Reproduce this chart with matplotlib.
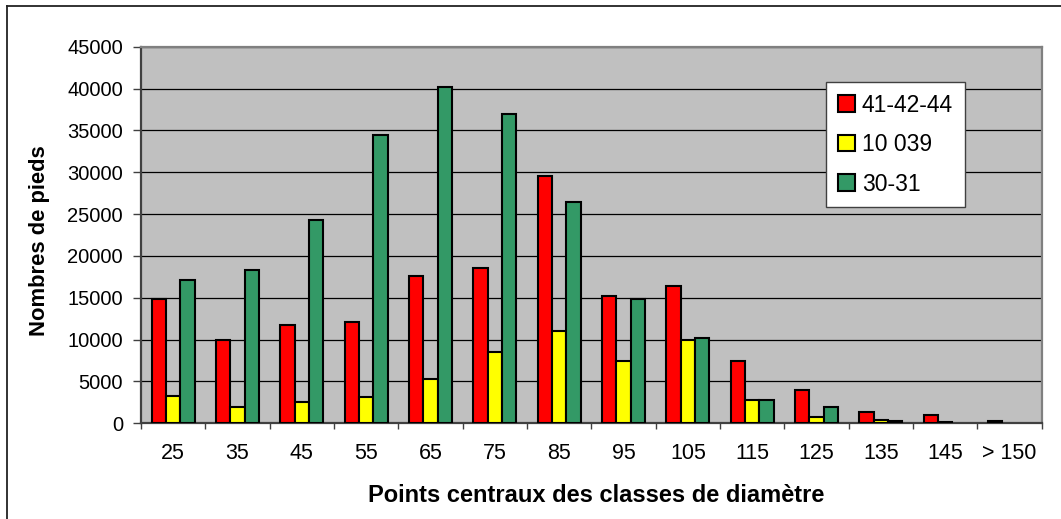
import matplotlib
matplotlib.use("Agg")
import matplotlib.pyplot as plt
from matplotlib.lines import Line2D
import numpy as np

plt.rcParams['font.family'] = ['Liberation Sans', 'DejaVu Sans']

categories = ['25', '35', '45', '55', '65', '75', '85', '95', '105', '115', '125', '135', '145', '> 150']
series_names = ['41-42-44', '10 039', '30-31']
s_red = [14800, 10000, 11700, 12100, 17600, 18600, 29500, 15200, 16400, 7400, 4000, 1400, 950, 250]
s_yellow = [3300, 1900, 2600, 3100, 5300, 8500, 11000, 7400, 9900, 2800, 700, 450, 200, 0]
s_green = [17100, 18300, 24250, 34500, 40200, 36900, 26400, 14800, 10200, 2800, 1900, 250, 0, 0]
colors = ['#FF0000', '#FFFF00', '#339966']
y_ticks = list(range(0, 45001, 5000))

W, H = 1061, 519
fig = plt.figure(figsize=(W / 100, H / 100), dpi=100)
fig.patch.set_facecolor('white')

# outer frame (left and top edges visible)
fig.add_artist(Line2D([7 / W, 7 / W], [0, 1 - 6.3 / H], transform=fig.transFigure, color='#222222', lw=1.3))
fig.add_artist(Line2D([7 / W, 1], [1 - 6.3 / H, 1 - 6.3 / H], transform=fig.transFigure, color='#222222', lw=1.3))

left, right = 141 / W, 1041.7 / W
bottom, top = 1 - 423.3 / H, 1 - 46.7 / H
ax = fig.add_axes([left, bottom, right - left, top - bottom])
ax.set_facecolor('#C0C0C0')

x = np.arange(len(categories))
bw = 0.222
for i, (vals, c, name) in enumerate(zip([s_red, s_yellow, s_green], colors, series_names)):
    lws = [1.5 if v > 0 else 0 for v in vals]
    ax.bar(x + (i - 1) * bw, vals, width=bw, color=c, edgecolor='black', linewidth=lws, label=name, zorder=3)

ax.set_xlim(-0.5, len(categories) - 0.5)
ax.set_ylim(0, 45000)
ax.set_yticks(y_ticks)
ax.set_yticklabels([str(v) for v in y_ticks], fontsize=14.5)
ax.yaxis.grid(True, color='black', lw=0.9, zorder=0)
ax.set_axisbelow(True)

ax.set_xticks(x)
ax.set_xticklabels(categories, fontsize=15.5)
ax.set_xticks(np.arange(-0.5, len(categories), 1.0), minor=True)
ax.tick_params(axis='x', which='major', length=0, pad=14.5)
ax.tick_params(axis='x', which='minor', length=4.5, width=1, color='#404040', direction='out')
ax.tick_params(axis='y', which='major', length=6, width=1, color='#404040', direction='out', pad=7)

for s in ['left', 'bottom']:
    ax.spines[s].set_color('#404040')
    ax.spines[s].set_linewidth(1.6)
for s in ['top', 'right']:
    ax.spines[s].set_color('#808080')
    ax.spines[s].set_linewidth(1.6)

ax.set_xlabel('Points centraux des classes de diamètre', fontsize=17, fontweight='bold')
ax.xaxis.set_label_coords(0.505, -0.16)
ax.set_ylabel('Nombres de pieds', fontsize=15.8, fontweight='bold')
ax.yaxis.set_label_coords(-0.101, 0.484)

leg = ax.legend(loc='upper left', bbox_to_anchor=(0.7607, 0.585, 0.1545, 0.321), mode='expand',
                fontsize=16.5, frameon=True, fancybox=False, edgecolor='#404040',
                handlelength=0.75, handleheight=0.75, handletextpad=0.3, labelspacing=0.72,
                borderpad=0.5, borderaxespad=0)
leg.get_frame().set_linewidth(1.0)
leg.get_frame().set_facecolor('white')
leg.get_frame().set_alpha(1)
leg.set_zorder(5)

fig.savefig('out.png', dpi=100, facecolor='white')
